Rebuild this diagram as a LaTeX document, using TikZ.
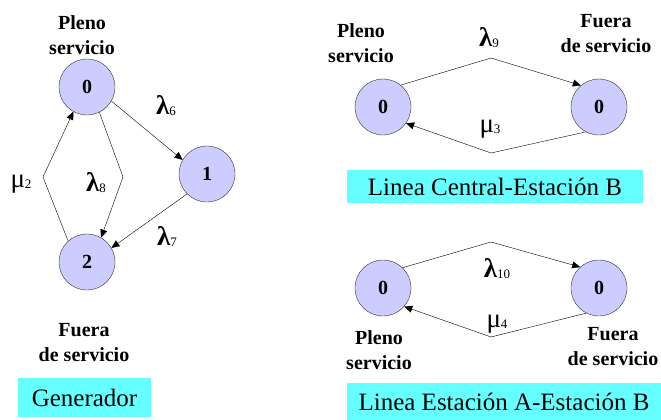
\documentclass[tikz,border=0pt]{standalone}
\usepackage{fontspec}
\setmainfont{Liberation Serif}
\usepackage{tikz}
\usetikzlibrary{arrows.meta, positioning}
\definecolor{statefill}{RGB}{204, 204, 255}
\definecolor{tagcyan}{RGB}{102, 255, 255}
\newcommand{\rate}[2]{{\fontsize{27}{27}\selectfont #1}\raisebox{-1pt}{\fontsize{13}{13}\selectfont\mdseries #2}}

\begin{document}
\begin{tikzpicture}[
  x=1pt, y=-1pt,
  state/.style={circle, draw=black!80, fill=statefill, minimum size=56pt, inner sep=0pt, font=\fontsize{20}{20}\selectfont\bfseries},
  status/.style={align=center, font=\fontsize{20}{25}\selectfont\bfseries},
  tag/.style={rectangle, fill=tagcyan, inner sep=0pt, font=\fontsize{25}{25}\selectfont},
  rlabel/.style={inner sep=0pt},
  lrate/.style={rlabel, font=\bfseries},
  arr/.style={-{Triangle[length=8pt, width=7pt]}, thin, color=black}
]
\useasboundingbox (0,0) rectangle (661,420);

% Generador (left)
\node[state] (g0) at (87, 87) {0};
\node[state] (g1) at (207, 174) {1};
\node[state] (g2) at (87, 262) {2};
\node[status] (gup) at (82, 35) {Pleno\\servicio};
\node[status] (gdown) at (84, 343) {Fuera\\de servicio};
\node[tag, minimum width=133pt, minimum height=39pt] (gtag) at (84.5, 397.5) {Generador};

\coordinate (gbendr) at (123, 177);
\coordinate (gbendl) at (43, 177);

\draw[arr] (g0.-30) -- (g1.150);
\draw[arr] (g1.225) -- (g2.30);
\draw[arr] (g0.296) -- (gbendr) -- (g2.60);
\draw[arr] (g2.132) -- (gbendl) -- (g0.241);

\node[lrate] (l6) at (166, 106) {\rate{λ}{6}};
\node[lrate] (l7) at (167, 236) {\rate{λ}{7}};
\node[lrate] (l8) at (96, 183) {\rate{λ}{8}};
\node[rlabel] (m2) at (21, 184) {\rate{μ}{2}};

% Linea Central-Estacion B (top right)
\node[state] (ca) at (383, 107) {0};
\node[state] (cb) at (599, 107) {0};
\node[status] (caup) at (361, 43) {Pleno\\servicio};
\node[status] (cbdown) at (606, 34) {Fuera\\de servicio};
\node[tag, minimum width=296pt, minimum height=33pt] (ctag) at (495, 186.5) {Linea Central-Estación B};

\coordinate (ctop) at (491, 58);
\coordinate (cbot) at (491, 153);

\draw[arr] (ca.51) -- (ctop) -- (cb.130);
\draw[arr] (cb.242) -- (cbot) -- (ca.325);

\node[lrate] (l9) at (489, 38) {\rate{λ}{9}};
\node[rlabel] (m3) at (490, 129) {\rate{μ}{3}};

% Linea Estacion A-Estacion B (bottom right)
\node[state] (ea) at (383, 288) {0};
\node[state] (eb) at (599, 288) {0};
\node[status] (eaup) at (379, 350) {Pleno\\servicio};
\node[status] (ebdown) at (613, 347) {Fuera\\de servicio};
\node[tag, minimum width=314pt, minimum height=37pt] (etag) at (504, 401.5) {Linea Estación A-Estación B};

\coordinate (etop) at (491, 242);
\coordinate (ebot) at (491, 337);

\draw[arr] (ea.46) -- (etop) -- (eb.132);
\draw[arr] (eb.243) -- (ebot) -- (ea.319);

\node[lrate] (l10) at (497, 269) {\rate{λ}{10}};
\node[rlabel] (m4) at (497, 324) {\rate{μ}{4}};

\end{tikzpicture}
\end{document}
